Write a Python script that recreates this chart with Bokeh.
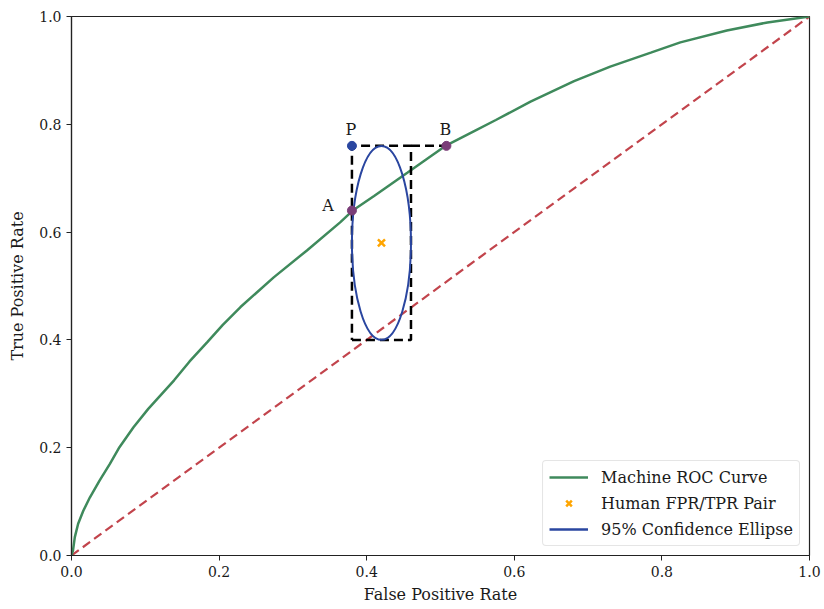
from bokeh.plotting import figure
from bokeh.models import FixedTicker, Legend, LegendItem, Range1d, ColumnDataSource
from bokeh.core.properties import value
from bokeh.embed import file_html
from bokeh.resources import INLINE

# ROC curve
roc_fpr = [0, 0.002, 0.0045, 0.009, 0.016, 0.025, 0.038, 0.052, 0.065, 0.084, 0.104,
           0.139, 0.16, 0.184, 0.205, 0.229, 0.274, 0.319, 0.364, 0.381, 0.410, 0.455,
           0.508, 0.545, 0.575, 0.622, 0.681, 0.73, 0.785, 0.825, 0.888, 0.943, 1.0]
roc_tpr = [0, 0.009, 0.034, 0.059, 0.083, 0.108, 0.139, 0.170, 0.201, 0.238, 0.272,
           0.325, 0.360, 0.396, 0.428, 0.461, 0.516, 0.566, 0.618, 0.640, 0.667, 0.710,
           0.761, 0.787, 0.808, 0.842, 0.880, 0.907, 0.933, 0.952, 0.974, 0.989, 1.0]
chance = [0.0, 1.0]

human_fpr = [0.42]
human_tpr = [0.58]
ellipse_w = [0.08]
ellipse_h = [0.36]

box_x = [0.38, 0.46, 0.46, 0.38, 0.38]
box_y = [0.40, 0.40, 0.76, 0.76, 0.40]
ext_x = [0.46, 0.508]
ext_y = [0.76, 0.76]

pt_names = ["P", "A", "B"]
pt_x = [0.38, 0.38, 0.508]
pt_y = [0.76, 0.64, 0.76]

ticks = [0.0, 0.2, 0.4, 0.6, 0.8, 1.0]
tick_labels = {t: f"{t:.1f}" for t in ticks}

FONT = "DejaVu Serif"
GREEN = "#3f8a5c"
RED = "#c2444c"
BLUE = "#2a46a0"
PURPLE = "#7a3d78"
ORANGE = "#ffa500"
INK = "#1a1a1a"

p = figure(width=824, height=609, output_backend="svg", toolbar_location=None,
           x_range=Range1d(0, 1), y_range=Range1d(0, 1),
           min_border_left=71, min_border_right=15, min_border_top=16, min_border_bottom=54)
p.grid.visible = False
p.outline_line_color = "#222222"
p.outline_line_width = 1.2

for ax in (p.xaxis[0], p.yaxis[0]):
    ax.ticker = FixedTicker(ticks=ticks)
    ax.major_label_overrides = tick_labels
    ax.minor_tick_line_color = None
    ax.major_tick_out = 5
    ax.major_tick_in = 0
    ax.axis_line_color = "#222222"
    ax.axis_line_width = 1.2
    ax.major_tick_line_color = "#222222"
    ax.major_label_text_font = FONT
    ax.major_label_text_font_size = "14px"
    ax.major_label_text_color = INK
    ax.axis_label_text_font = FONT
    ax.axis_label_text_font_size = "16px"
    ax.axis_label_text_font_style = "normal"
    ax.axis_label_text_color = INK
p.xaxis.axis_label = "False Positive Rate"
p.yaxis.axis_label = "True Positive Rate"
p.xaxis.major_label_standoff = 5
p.yaxis.major_label_standoff = 5
p.xaxis.axis_label_standoff = 5
p.yaxis.axis_label_standoff = 9

diag = p.line(chance, chance, line_color=RED, line_width=2.2, line_dash="9 5")
roc = p.line(roc_fpr, roc_tpr, line_color=GREEN, line_width=2.5)

p.line(box_x, box_y, line_color="black", line_width=2.5, line_dash="9 5")
p.line(ext_x, ext_y, line_color="black", line_width=2.5, line_dash="9 5")

p.ellipse(x=human_fpr, y=human_tpr, width=ellipse_w, height=ellipse_h,
          fill_alpha=0, line_color=BLUE, line_width=2)
ell_leg = p.line(x=human_fpr * 2, y=human_tpr * 2, line_color=BLUE, line_width=2.5)

hum = p.scatter(human_fpr, human_tpr, marker="x", size=10, line_width=2.5, color=ORANGE)

p.scatter([pt_x[0]], [pt_y[0]], size=9, color=BLUE)
p.scatter(pt_x[1:], pt_y[1:], size=9, color=PURPLE)

src = ColumnDataSource(dict(x=pt_x, y=pt_y, t=pt_names,
                            dx=[-1, -24, -1], dy=[-16, -5, -16]))
p.text(x="x", y="y", text="t", x_offset="dx", y_offset="dy", source=src,
       text_font=value(FONT), text_font_size="16px", text_align="center",
       text_baseline="middle", text_color=INK)

legend = Legend(items=[LegendItem(label="Machine ROC Curve", renderers=[roc]),
                       LegendItem(label="Human FPR/TPR Pair", renderers=[hum]),
                       LegendItem(label="95% Confidence Ellipse", renderers=[ell_leg])],
                location="bottom_right", margin=9)
legend.label_text_font = FONT
legend.label_text_font_size = "16px"
legend.label_text_color = INK
legend.border_line_color = "#cccccc"
legend.border_line_width = 1
legend.border_radius = 4
legend.glyph_width = 39
legend.glyph_height = 20
legend.spacing = 6
legend.padding = 6
legend.label_standoff = 13
legend.label_height = 20
p.add_layout(legend, "center")

open("out.html", "w").write(file_html(p, INLINE))
